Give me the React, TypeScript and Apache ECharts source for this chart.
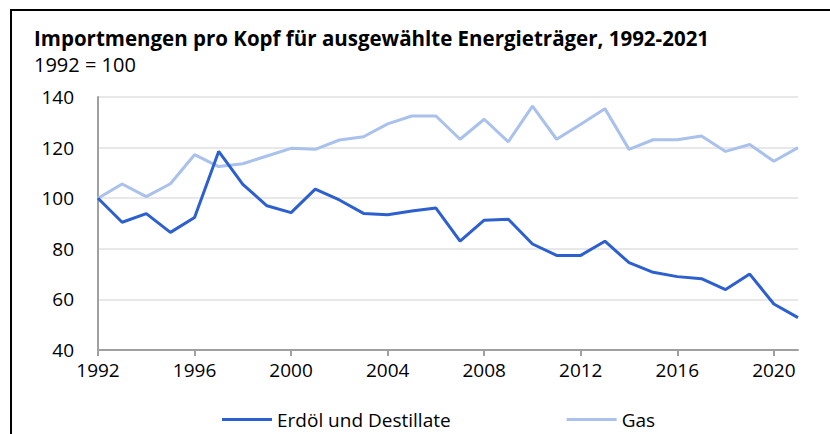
import React, { useEffect, useRef } from "react";
import * as echarts from "echarts";

const years = [
  1992, 1993, 1994, 1995, 1996, 1997, 1998, 1999, 2000, 2001,
  2002, 2003, 2004, 2005, 2006, 2007, 2008, 2009, 2010, 2011,
  2012, 2013, 2014, 2015, 2016, 2017, 2018, 2019, 2020, 2021,
];
const erdoel = [
  100, 90.5, 93.9, 86.5, 92.4, 118.5, 105.5, 97, 94.3, 103.6,
  99.3, 94.0, 93.5, 94.9, 96.1, 83.0, 91.3, 91.7, 81.9, 77.4,
  77.4, 83.0, 74.5, 70.7, 69.0, 68.2, 63.9, 70.0, 58.2, 52.8,
];
const gas = [
  100, 105.6, 100.6, 105.7, 117.2, 112.5, 113.6, 116.7, 119.7, 119.3,
  123.0, 124.3, 129.4, 132.5, 132.5, 123.3, 131.2, 122.3, 136.4, 123.3,
  129.2, 135.4, 119.3, 123.1, 123.1, 124.6, 118.5, 121.2, 114.6, 120.0,
];
const seriesNames = ["Erdöl und Destillate", "Gas"];
const titleText = "Importmengen pro Kopf für ausgewählte Energieträger, 1992-2021";
const subtitleText = "1992 = 100";

const FONT = "'Open Sans', 'Noto Sans', sans-serif";

export default function App() {
  const ref = useRef<HTMLDivElement>(null);
  useEffect(() => {
    if (!ref.current) return;
    const chart = echarts.init(ref.current, undefined, { renderer: "svg" });
    chart.setOption({
      animation: false,
      backgroundColor: "#ffffff",
      textStyle: { fontFamily: FONT },
      title: [
        {
          text: titleText,
          left: 29,
          top: 22,
          textStyle: { fontFamily: FONT, fontSize: 20.5, fontWeight: "bold", color: "#000" },
        },
        {
          text: subtitleText,
          left: 29,
          top: 49,
          textStyle: { fontFamily: FONT, fontSize: 20, fontWeight: "normal", color: "#000" },
        },
      ],
      grid: { left: 98, right: 32, top: 97, bottom: 84, containLabel: false },
      legend: {
        left: 217,
        top: 405,
        icon: "rect",
        itemWidth: 50,
        itemHeight: 3,
        itemGap: 116,
        textStyle: { fontFamily: FONT, fontSize: 19, color: "#000" },
        data: seriesNames,
      },
      xAxis: {
        type: "value",
        min: 1992,
        max: 2021,
        interval: 4,
        axisLine: { show: true, lineStyle: { color: "#a0a0a0", width: 2 } },
        axisTick: { show: true, length: 6, lineStyle: { color: "#a0a0a0", width: 2 } },
        splitLine: { show: false },
        axisLabel: {
          formatter: (v: number) => String(v),
          fontFamily: FONT,
          fontSize: 19,
          color: "#000",
          margin: 10,
          showMaxLabel: false,
        },
      },
      yAxis: {
        type: "value",
        min: 40,
        max: 140,
        interval: 20,
        axisLine: { show: true, lineStyle: { color: "#a0a0a0", width: 2 } },
        axisTick: { show: false },
        splitLine: { show: true, lineStyle: { color: "#e0e0e0", width: 1.5 } },
        axisLabel: { fontFamily: FONT, fontSize: 19, color: "#000", margin: 24 },
      },
      series: [
        {
          name: seriesNames[0],
          type: "line",
          symbol: "none",
          data: years.map((y, i) => [y, erdoel[i]]),
          lineStyle: { color: "#2c5fcf", width: 3 },
          itemStyle: { color: "#2c5fcf" },
          z: 3,
        },
        {
          name: seriesNames[1],
          type: "line",
          symbol: "none",
          data: years.map((y, i) => [y, gas[i]]),
          lineStyle: { color: "#a9c1ec", width: 3 },
          itemStyle: { color: "#a9c1ec" },
          z: 2,
        },
      ],
      graphic: [
        {
          type: "line",
          shape: { x1: 10, y1: 10, x2: 830, y2: 10 },
          style: { stroke: "#000", lineWidth: 2 },
        },
        {
          type: "line",
          shape: { x1: 11, y1: 9, x2: 11, y2: 434 },
          style: { stroke: "#000", lineWidth: 2 },
        },
      ],
    });
    return () => chart.dispose();
  }, []);
  return (
    <div
      ref={ref}
      style={{ position: "fixed", left: 0, top: 0, width: 830, height: 434 }}
    />
  );
}
